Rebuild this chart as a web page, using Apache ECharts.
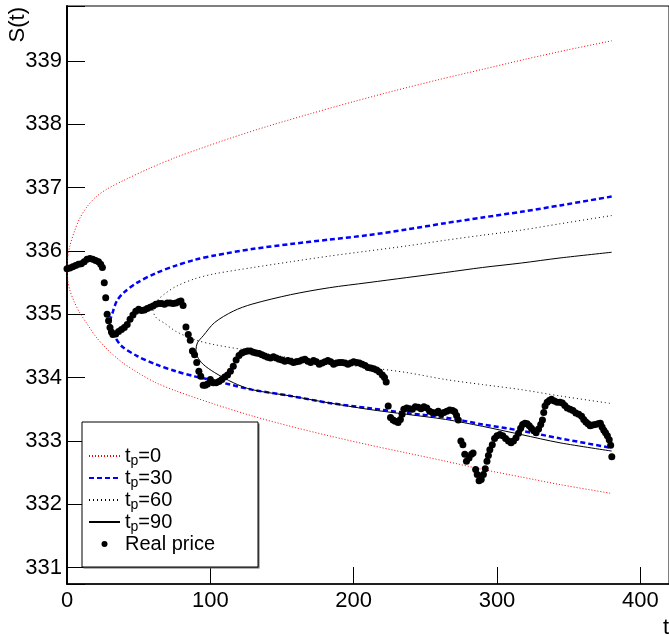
<!DOCTYPE html>
<html>
<head>
<meta charset="utf-8">
<script src="https://cdn.jsdelivr.net/npm/echarts@6/dist/echarts.min.js"></script>
<style>
  html, body { margin: 0; padding: 0; background: #fff; }
  #chart { width: 669px; height: 635px; }
</style>
</head>
<body>
<div id="chart"></div>
<script>
// forecast envelopes, [t, S] pairs (upper branch from the vertex, then lower)
const tp0Upper = [[0,335.73],[0.5,335.9],[2,336.08],[5,336.3],[9,336.52],[14,336.7],[20,336.85],[28,336.98],[40,337.12],[57,337.3],[75,337.47],[92,337.61],[115,337.79],[140,337.97],[170,338.17],[200,338.36],[230,338.54],[260,338.71],[290,338.87],[320,339.03],[350,339.18],[380,339.32]];
const tp0Lower = [[0.5,335.55],[2,335.38],[5,335.2],[9,335.02],[14,334.85],[20,334.65],[28,334.45],[38,334.25],[50,334.07],[62,333.92],[76,333.79],[103,333.58],[130,333.39],[156,333.23],[183,333.08],[210,332.94],[237,332.81],[264,332.68],[290,332.55],[317,332.43],[344,332.31],[380,332.17]];

const tp30Upper = [[30,334.87],[32,335.04],[35,335.22],[40,335.35],[49,335.5],[62,335.65],[76,335.77],[89,335.86],[103,335.93],[129,336.03],[156,336.11],[183,336.18],[210,336.25],[237,336.34],[264,336.44],[290,336.53],[317,336.62],[344,336.72],[380,336.86]];
const tp30Lower = [[31,334.75],[33,334.66],[38,334.5],[49,334.34],[62,334.21],[76,334.1],[89,334.02],[103,333.95],[129,333.81],[156,333.71],[183,333.6],[210,333.52],[237,333.44],[264,333.37],[290,333.26],[317,333.16],[344,333.04],[380,332.89]];

const tp60Upper = [[60,335.07],[61,335.14],[63,335.22],[68,335.32],[76,335.44],[89,335.56],[103,335.64],[130,335.74],[156,335.83],[183,335.92],[210,336.0],[237,336.08],[264,336.17],[290,336.25],[317,336.33],[344,336.43],[380,336.56]];
const tp60Lower = [[61,334.99],[63,334.93],[68,334.86],[76,334.73],[89,334.6],[103,334.52],[129,334.42],[156,334.31],[183,334.23],[210,334.16],[237,334.08],[264,333.97],[290,333.89],[317,333.81],[344,333.71],[380,333.59]];

const tp90Upper = [[90,334.44],[91,334.55],[95,334.66],[103,334.87],[116,335.05],[129,335.16],[156,335.31],[183,335.42],[210,335.5],[237,335.58],[264,335.66],[290,335.74],[317,335.81],[344,335.89],[380,335.98]];
const tp90Lower = [[91,334.33],[95,334.21],[103,334.08],[116,333.92],[129,333.81],[156,333.71],[183,333.6],[210,333.5],[237,333.42],[264,333.34],[290,333.23],[317,333.1],[344,332.97],[380,332.84]];

// real price, [t, S]
const realPrice = [
  [0,335.72],[2,335.73],[4,335.75],[6,335.77],[8,335.79],[10,335.8],[12,335.83],[14,335.87],[16,335.88],[18,335.87],[20,335.85],[22,335.83],[23.5,335.79],[24.7,335.74],
  [26,335.5],[27,335.26],[28,335.0],[29,334.9],[30,334.79],[31,334.72],[32,334.68],[34,334.69],[36,334.73],[38,334.76],[40,334.79],[42,334.84],[44,334.92],[46,334.99],[48,335.05],[50,335.08],[52,335.06],[54,335.07],[56,335.09],[58,335.11],[60,335.13],[62,335.16],[64,335.17],[66,335.17],[68,335.16],[70,335.18],[72,335.18],[74,335.17],[76,335.18],[78,335.2],[79.5,335.21],[81,335.14],
  [83,334.8],[84.6,334.68],[86,334.59],[87.5,334.42],[89,334.36],[90.5,334.24],[92,334.1],[93.3,334.02],[95,333.88],[96.5,333.88],[98,333.9],[100,333.97],[102,333.92],[104,333.92],[106,333.94],[108,333.97],[110,334.01],[112,334.04],[114,334.1],[116,334.18],[118,334.28],[120,334.35],[122,334.39],[124,334.41],[126,334.42],[128,334.42],[130,334.4],[132,334.39],[134,334.38],[136,334.36],[138,334.34],[140,334.32],[142,334.31],[144,334.33],[146,334.31],[148,334.29],[150,334.28],[152,334.26],[154,334.27],[156,334.26],[158,334.24],[160,334.25],[162,334.26],[164,334.28],[166,334.29],[168,334.26],[170,334.24],[172,334.27],[174,334.25],[176,334.21],[178,334.23],[180,334.25],[182,334.27],[184,334.25],[186,334.21],[188,334.23],[190,334.24],[192,334.24],[194,334.23],[196,334.21],[198,334.23],[200,334.25],[202,334.24],[204,334.23],[206,334.21],[208,334.19],[210,334.16],[212,334.15],[214,334.14],[216,334.12],[218,334.09],[220,334.04],[221.5,334.0],[222.7,333.93],
  [224.1,333.55],[225.7,333.37],[227.5,333.33],[229,333.31],[231,333.29],[232.6,333.34],[233.8,333.42],[235,333.5],[237,333.52],[239,333.51],[241,333.5],[243,333.54],[245,333.53],[247,333.51],[249,333.54],[251,333.52],[253,333.47],[255,333.45],[257,333.44],[259,333.47],[261,333.43],[263,333.45],[265,333.47],[267,333.49],[269,333.48],[270.5,333.46],[271.8,333.4],[273,333.33],
  [274.8,333.0],[276.2,332.94],[277.5,332.79],[278.7,332.68],[280.5,332.73],[282.2,332.79],[283.3,332.81],[285.1,332.55],[286.2,332.47],[287.5,332.37],[289,332.39],[290.5,332.47],[291.8,332.56],[293,332.68],[294,332.77],[295,332.86],[296.7,332.94],[298.3,333.04],[300,333.08],[302,333.1],[304,333.08],[306,333.04],[308,333.0],[309.8,332.97],[311.5,333.0],[313.3,333.05],[315,333.12],[316.5,333.2],[317.9,333.26],[319.5,333.28],[321,333.27],[322.5,333.24],[324,333.2],[325.7,333.16],[327.3,333.13],[329,333.19],[330.5,333.26],[331.7,333.33],[332.6,333.45],[333.5,333.55],[335,333.61],[336.5,333.64],[338,333.66],[340,333.63],[342,333.61],[344,333.61],[345.6,333.6],[347.3,333.56],[349,333.52],[351,333.5],[353,333.48],[355,333.44],[357,333.42],[359,333.39],[360.5,333.34],[362,333.3],[363.5,333.27],[365,333.24],[366.8,333.25],[368.6,333.26],[370.5,333.27],[372.1,333.28],[373.3,333.22],[374.5,333.17],[375.7,333.13],[377,333.08],[378.3,333.02],[379.3,332.93],[380.1,332.75]
];

const xTicks = [0, 100, 200, 300, 400];
const yTicks = [331, 332, 333, 334, 335, 336, 337, 338, 339];

const FONT = '"Liberation Sans", Arial, Helvetica, sans-serif';

// upper branch walked back to the vertex, then the lower branch
const envelope = (upper, lower) => upper.slice().reverse().concat(lower);

const lineSeries = (name, upper, lower, color, width, type) => ({
  name: name,
  type: 'line',
  data: envelope(upper, lower),
  symbol: 'none',
  smooth: 0.3,
  silent: true,
  lineStyle: { color: color, width: width, type: type },
  itemStyle: { color: color },
  z: 2
});

const chart = echarts.init(document.getElementById('chart'), null, { renderer: 'canvas' });

// legend entries for the curves: line only, no marker
const noMarker = { opacity: 0 };

const option = {
  animation: false,
  backgroundColor: '#fff',
  grid: { left: 67, top: 6, width: 607, height: 578, show: true, borderColor: '#000', borderWidth: 1, containLabel: false },
  xAxis: {
    type: 'value',
    min: 0,
    max: 420,
    interval: 100,
    axisLine: { onZero: false, lineStyle: { color: '#000', width: 1.5 } },
    axisTick: { inside: true, length: 17, lineStyle: { color: '#000' } },
    axisLabel: {
      color: '#000', fontFamily: FONT, fontSize: 22, margin: 6,
      showMaxLabel: false,
      formatter: v => (xTicks.indexOf(v) >= 0 ? String(v) : '')
    },
    splitLine: { show: false }
  },
  yAxis: {
    type: 'value',
    min: 330.74,
    max: 339.87,
    splitNumber: 9,
    axisLine: { onZero: false, lineStyle: { color: '#000', width: 2 } },
    axisTick: { inside: true, length: 18, lineStyle: { color: '#000' } },
    axisLabel: {
      color: '#000', fontFamily: FONT, fontSize: 22, margin: 5,
      formatter: v => (yTicks.indexOf(Math.round(v * 100) / 100) >= 0 ? String(Math.round(v)) : '')
    },
    splitLine: { show: false }
  },
  legend: {
    orient: 'vertical',
    left: 88,
    top: 446,
    padding: 0,
    itemWidth: 31,
    itemHeight: 6,
    itemGap: 0,
    selectedMode: false,
    z: 60,
    data: [
      { name: 't_p=0', itemStyle: noMarker },
      { name: 't_p=30', itemStyle: noMarker },
      { name: 't_p=60', itemStyle: noMarker },
      { name: 't_p=90', itemStyle: noMarker },
      { name: 'Real price', icon: 'circle', itemStyle: { color: '#000', opacity: 1 } }
    ],
    formatter: name => {
      if (name.indexOf('t_p=') === 0) return '{n|t}{s|p}{n|' + name.slice(3) + '}';
      return '{n|' + name + '}';
    },
    textStyle: {
      color: '#000',
      fontFamily: FONT,
      fontSize: 20,
      rich: {
        n: { fontFamily: FONT, fontSize: 20, lineHeight: 24, color: '#000' },
        s: { fontFamily: FONT, fontSize: 14, lineHeight: 8, verticalAlign: 'bottom', color: '#000' }
      }
    }
  },
  graphic: [
    { type: 'rect', z: 50, shape: { x: 83.5, y: 423.5, width: 176, height: 145 }, style: { fill: '#666' } },
    { type: 'rect', z: 51, shape: { x: 82, y: 422, width: 176, height: 145 }, style: { fill: '#fff', stroke: '#000', lineWidth: 1 } },
    {
      type: 'text', z: 60, x: 29, y: 7, rotation: Math.PI / 2,
      style: { text: 'S(t)', font: '22px ' + FONT, fill: '#000', align: 'right', verticalAlign: 'bottom' }
    },
    {
      type: 'text', z: 60, x: 669, y: 617,
      style: { text: 't', font: '22px ' + FONT, fill: '#000', align: 'right', verticalAlign: 'top' }
    }
  ],
  series: [
    lineSeries('t_p=0', tp0Upper, tp0Lower, '#ff0000', 1, [1, 2]),
    lineSeries('t_p=30', tp30Upper, tp30Lower, '#0000ff', 2.5, [5, 3]),
    lineSeries('t_p=60', tp60Upper, tp60Lower, '#000000', 1, [1, 3]),
    lineSeries('t_p=90', tp90Upper, tp90Lower, '#000000', 1, 'solid'),
    {
      name: 'Real price',
      type: 'scatter',
      data: realPrice,
      symbol: 'circle',
      symbolSize: 7,
      silent: true,
      itemStyle: { color: '#000', opacity: 1 },
      z: 3
    }
  ]
};

chart.setOption(option);
</script>
</body>
</html>
